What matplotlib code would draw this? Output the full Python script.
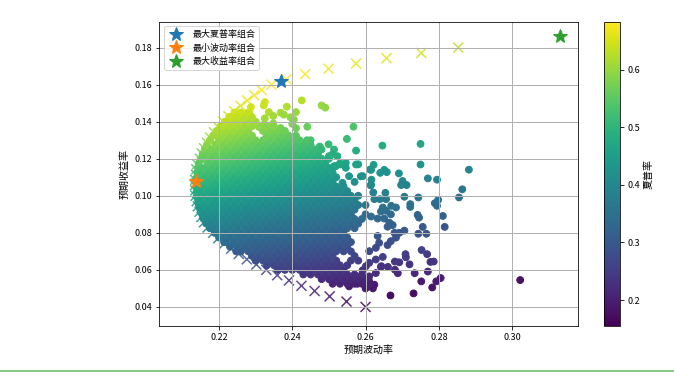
import numpy as np
import matplotlib
matplotlib.use('Agg')
import matplotlib.pyplot as plt
from matplotlib.lines import Line2D

plt.rcParams['font.family'] = ['Noto Sans CJK SC', 'DejaVu Sans']
plt.rcParams['axes.unicode_minus'] = False

# efficient frontier (x marks)
front_ret = [40,42.9,45.7,48.6,51.4,54.3,57.1,60,62.9,65.7,68.6,71.4,74.3,77.1,80,82.9,85.7,88.6,91.4,94.3,
             97.1,100,102.9,105.7,108.6,111.4,114.3,117.1,120,122.9,125.7,128.6,131.4,134.3,137.1,140,142.9,
             145.7,148.6,151.4,154.3,157.1,160,162.9,165.7,168.6,171.4,174.3,177.1,180]
front_vol = [260,254.8,250.2,246.1,242.5,239.1,235.9,232.9,230.2,227.6,225.4,223.3,221.5,219.8,218.4,216.9,215.9,
             215.2,214.7,214.2,213.9,213.6,213.5,213.4,213.5,213.7,213.8,214,214.8,215.3,215.9,216.7,217.6,218.6,
             219.8,221.2,222.6,224.1,225.9,227.7,229.6,231.6,234.3,238.4,243.5,249.9,257.4,265.7,275.2,285.3]

# scattered portfolios outside the solid blob
out_vol = [232.5,232.2,242.6,248,249,238.5,228.7,233.6,228.3,236.8,237.7,241,234.8,232.5,239.5,240.4,240,234.8,232.2,
           230.9,244.1,256.7,241,236.8,254.9,257.4,264.6,245,249.9,251.4,247.5,275,275,288.2,258,262.2,261.2,264,
           265.1,265.8,269.1,258.7,261.6,261.4,270.1,269.7,271.2,277,279.5,286.4,285.5,270.6,274.4,279.8,278.9,
           279.5,272.2,272.2,281.1,274.2,274.6,281.6,275.6,274.4,276.6,270.6,275.3,276.8,270.9,271,277.7,278.6,
           272,268,269.2,266.1,264.3,268,268.8,273.4,277,280.5,279.3,275.2,278.2,273.1,266.8,302.2,265.4,265.6,
           263.9,262.4,261.5,262.1,268.3,267,264.7,264.2,265.6,266.9,261.5,263.3,265.1,266.5,267.4,266,267.9,
           269.2,268.3,266.9,266,263.3,263.7,262.8,261,264.7,262.8,261,260.1,259.2,262.8,261,261,261.9,258.7,
           257.8,255.5,264.2,260.1,261,262.4,
           251.9,254.6,257.4,255.5,253.7,259.2,261.5,250,252.3,251.4,253.2,254.6]
out_ret = [150.6,148.8,151.5,148.8,147.6,148.1,147.9,145.2,144.5,144.9,143.8,145.2,143.1,141.8,142.4,141.1,138.8,139.1,
           138.4,137.2,137.3,137.3,136.5,136.6,130.7,124.4,127.1,130,127.8,125,126.6,128,116.9,114.1,117,116.7,114.2,
           112.4,114,112.8,112.1,110.5,108.7,105.6,108,105.8,105.8,109.4,108.7,103.5,99.1,99.5,99.1,97.8,96,94.6,95.5,
           94,89.1,89.7,88.2,83.2,83.2,79.5,79.5,81.2,70.7,68.5,68.5,66.8,64.3,64.5,63,64.5,64.1,61.6,62,60.1,58.2,
           58.2,59.1,55.6,53.8,53.8,50.5,47.3,46.2,54.5,101.6,98.2,98.2,98.2,106,101.8,93.7,94.6,93.7,91.5,91.9,90,
           88.8,87.7,87.7,85.5,84.2,83.3,80,80,77.4,75.5,73.4,78.3,74.6,71.9,70.1,67,65.6,63.8,62,59.8,58.3,56.5,
           53.8,51.1,54.7,52.5,51.1,61.6,52,51.1,52,
           116,117.8,116.9,110.6,107,110.6,114,121.4,121.4,116,116.9,115.1]

# blob edge that hugs the frontier
edge_ret = [70,72.5,75,77.5,80,82.5,85,87.5,90,92.5,95,97.5,100,102.5,105,107.5,110,112.5,115,117.5,120,122.5,125,
            127.5,130,132.5,135,137.5,140,142.5,145]
edge_vol = [224.7,223,221.4,220,218.8,217.5,216.5,215.8,215.4,214.9,214.5,214.3,214,213.9,213.9,214,214,214.1,214.3,
            214.5,215.2,215.6,216.1,216.7,217.5,218.4,219.3,220.4,221.6,222.8,224.2]

# solid blob, one vol list per return level
blob_ret = [50,52.5,55,57.5,60,62.5,65,67.5,70,72.5,75,77.5,80,82.5,85,87.5,90,92.5,95,97.5,100,102.5,105,107.5,110,
            112.5,115,117.5,120,122.5,125,127.5,130,132.5,135,137.5,140,142.5,145]
blob_vol = [
    [260,262],
    [251,253,255,257,259,261],
    [248,250,252,254,256,258,260],
    [243,245,247,249,251,253,255,257,259],
    [236,238,240,242,244,246,248,250,252,254],
    [233,235,237,239,241,243,245,247,249,251,253,255],
    [230,232,234,236,238,240,242,244,246,248,250,252,256,258],
    [229,231,233,235,237,239,241,243,245,247,249,251,257],
    [226,228,230,232,234,236,238,240,242,244,246,248,250,252,254,256],
    [225,227,229,231,233,235,237,239,241,243,245,247,249,251,253,255],
    [222,224,226,228,230,232,234,236,238,240,242,244,246,248,250,252,254,256],
    [221,223,225,227,229,231,233,235,237,239,241,243,245,247,249,251,253,255],
    [220,222,224,226,228,230,232,234,236,238,240,242,244,246,248,250,252,254],
    [219,221,223,225,227,229,231,233,235,237,239,241,243,245,247,249,251,253,255,257],
    [218,220,222,224,226,228,230,232,234,236,238,240,242,244,246,248,250,252,254,256,258],
    [217,219,221,223,225,227,229,231,233,235,237,239,241,243,245,247,249,251,253,255,257,259],
    [216,218,220,222,224,226,228,230,232,234,236,238,240,242,244,246,248,250,252,254,256,260],
    [215,217,219,221,223,225,227,229,231,233,235,237,239,241,243,245,247,249,251,253,255,257],
    [216,218,220,222,224,226,228,230,232,234,236,238,240,242,244,246,248,250,252,254,256,258,260],
    [215,217,219,221,223,225,227,229,231,233,235,237,239,241,243,245,247,249,251,253,255,257],
    [216,218,220,222,224,226,228,230,232,234,236,238,240,242,244,246,248,250,252,254,256,258],
    [215,217,219,221,223,225,227,229,231,233,235,237,239,241,243,245,247,249,251,253,255],
    [216,218,220,222,224,226,228,230,232,234,236,238,240,242,244,246,248,250,252,254],
    [215,217,219,221,223,225,227,229,231,233,235,237,239,241,243,245,247,249,251,257],
    [216,218,220,222,224,226,228,230,232,234,236,238,240,242,244,246,248,250,252],
    [215,217,219,221,223,225,227,229,231,233,235,237,239,241,243,245,247,249,251],
    [216,218,220,222,224,226,228,230,232,234,236,238,240,242,244,246,248,250],
    [217,219,221,223,225,227,229,231,233,235,237,239,241,243,245,247,249,253],
    [216,218,220,222,224,226,228,230,232,234,236,238,240,242,244,246,248,250],
    [217,219,221,223,225,227,229,231,233,235,237,239,241,243,245,247,251],
    [218,220,222,224,226,228,230,232,234,236,238,240,242,244,246,248],
    [219,221,223,225,227,229,231,233,235,237,239,241,243,245],
    [220,222,224,226,228,230,232,234,236,238,240,242,244],
    [219,221,223,225,227,229,233,235,237,239,241],
    [220,222,224,226,228,232,234,236,238],
    [221,223,225,227,229,231,233,235],
    [222,224,226,228,230],
    [223,225,227,229],
    [226,228],
]

# special portfolios, (vol, ret)
best_labels = ['最大夏普率组合', '最小波动率组合', '最大收益率组合']
best_vol = [237.0, 213.6, 313.0]
best_ret = [162.0, 108.0, 186.5]

xticks = [0.22, 0.24, 0.26, 0.28, 0.30]
yticks = [0.04, 0.06, 0.08, 0.10, 0.12, 0.14, 0.16, 0.18]
cticks = [0.2, 0.3, 0.4, 0.5, 0.6]

W, H = 674, 372
fig = plt.figure(figsize=(W/72, H/72), dpi=72)
ax = fig.add_axes([159.3/W, 1-326/H, (577.7-159.3)/W, (326-21.7)/H])
cax = fig.add_axes([604/W, 1-326/H, 16/W, (326-21.7)/H])

vol_all = np.array(out_vol + edge_vol + [v for row in blob_vol for v in row])/1000
ret_all = np.array(out_ret + edge_ret + [r for r, row in zip(blob_ret, blob_vol) for v in row])/1000
fvol = np.array(front_vol)/1000
fret = np.array(front_ret)/1000

# x marks go under the dots, only their tips show on the left edge
ax.scatter(fvol, fret, c=fret/fvol, s=100, marker='x', cmap='viridis', vmin=0.155, vmax=0.683, alpha=0.85, zorder=1)
# the colour bar is the sharpe ratio, which here is just return over vol
sc = ax.scatter(vol_all, ret_all, c=ret_all/vol_all, s=46, marker='o', cmap='viridis', vmin=0.155, vmax=0.683, zorder=1.5)

for v, r, lab in zip(best_vol, best_ret, best_labels):
    ax.plot(v/1000, r/1000, '*', markersize=15, label=lab, zorder=3)

ax.grid(True, color='#b0b0b0', lw=1)
ax.set_xlim(0.2037, 0.3179)
ax.set_ylim(0.0297, 0.194)
ax.set_xticks(xticks)
ax.set_yticks(yticks)
ax.set_xticklabels(['%.2f' % t for t in xticks])
ax.set_yticklabels(['%.2f' % t for t in yticks])
ax.tick_params(labelsize=9)
ax.set_xlabel('预期波动率', fontsize=10, labelpad=3)
ax.set_ylabel('预期收益率', fontsize=10, labelpad=5)
ax.legend(loc='upper left', fontsize=9)

cb = fig.colorbar(sc, cax=cax)
cb.set_ticks(cticks)
cb.ax.tick_params(labelsize=9)
cb.set_label('夏普率', fontsize=10)

fig.add_artist(Line2D([0, 1], [1-370.5/H, 1-370.5/H], color='#5cb85c', lw=1.5))

fig.savefig('out.png', dpi=72)
